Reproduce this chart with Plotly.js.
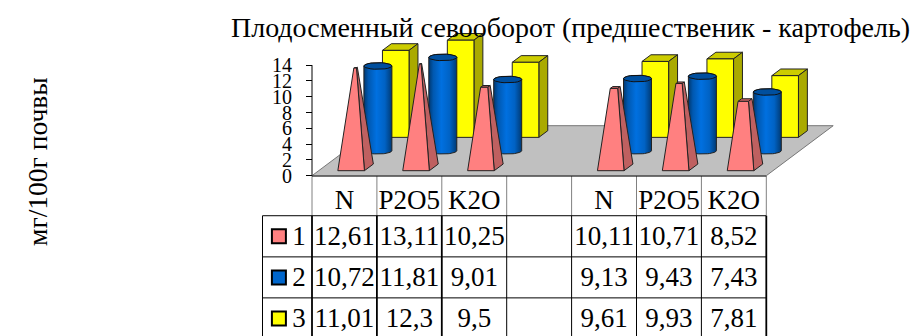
<!DOCTYPE html>
<html>
<head>
<meta charset="utf-8">
<script src="https://cdn.plot.ly/plotly-3.0.1.min.js"></script>
<style>html,body{margin:0;padding:0;background:#fff;overflow:hidden}</style>
</head>
<body>
<div id="chart" style="width:913px;height:336px"></div>
<script>
// Soil nutrient content for two groups of three nutrients, three series each.
const categories = ['N', 'P2O5', 'K2O', '', 'N', 'P2O5', 'K2O'];
const seriesNames = ['1', '2', '3'];
const series1 = [12.61, 13.11, 10.25, null, 10.11, 10.71, 8.52];
const series2 = [10.72, 11.81, 9.01, null, 9.13, 9.43, 7.43];
const series3 = [11.01, 12.3, 9.5, null, 9.61, 9.93, 7.81];
const yTicks = [0, 2, 4, 6, 8, 10, 12, 14];
const titleText = 'Плодосменный севооборот (предшественик - картофель)';
const yTitleText = 'мг/100г почвы';

const W = 913, H = 336;
const SERIF = '"Liberation Serif","Times New Roman",serif';
const INK = '#000000';
const EDGE = '#222222';

// Page geometry of the chart frame.
const x0Px = 312, colPx = 64.9, y0Px = 175.7, unitPx = 7.9, rowPx = 41;
// Oblique projection: one series row of depth moves marks right and up.
const rowDX = 22.3 / colPx, rowDY = 16.67 / unitPx;
const halfW = 13.3 / colPx, halfD = 0.2, axisMax = 14;
const proj = (col, depth, value) => [col + depth * rowDX, value + depth * rowDY];

const traces = [];
function poly(pts, fill, line, extra) {
  const closed = pts.concat([pts[0]]);
  traces.push(Object.assign({
    type: 'scatter', mode: 'lines', x: closed.map(p => p[0]), y: closed.map(p => p[1]),
    fill: 'toself', fillcolor: fill, line: {color: line || EDGE, width: 1},
    hoverinfo: 'skip', showlegend: false, xaxis: 'x', yaxis: 'y'
  }, extra || {}));
}

// Floor of the 3D plot box.
poly([proj(0, 0, 0), proj(categories.length, 0, 0), proj(categories.length, 3, 0), proj(0, 3, 0)], '#c0c0c0', '#777777');

// Square column, tapered towards the axis maximum when taper is set.
function prism(col, depth, v, colors, taper) {
  const s = taper ? 1 - v / axisMax : 1;
  const b = (dx, dz) => proj(col + dx * halfW, depth + dz * halfD, 0);
  const t = (dx, dz) => proj(col + dx * halfW * s, depth + dz * halfD * s, v);
  poly([t(-1, -1), t(1, -1), t(1, 1), t(-1, 1)], colors.top);
  poly([b(1, -1), b(1, 1), t(1, 1), t(1, -1)], colors.side);
  poly([b(-1, -1), b(1, -1), t(1, -1), t(-1, -1)], colors.front);
}

// Cylinder with shaded body and a darker cap.
function cylinder(col, depth, v) {
  const rx = 14 / colPx, ry = 3.3 / unitPx;
  const [cx, by] = proj(col, depth, 0);
  const ty = by + v;
  const arc = (cy, from, to) => {
    const out = [];
    for (let i = 0; i <= 24; i++) {
      const a = from + (to - from) * i / 24;
      out.push([cx + rx * Math.cos(a), cy + ry * Math.sin(a)]);
    }
    return out;
  };
  poly(arc(ty, Math.PI, 0).concat(arc(by, 0, -Math.PI)), '#0066cc', EDGE, {
    fillgradient: {
      type: 'horizontal', start: cx - rx, stop: cx + rx,
      colorscale: [[0, '#00386f'], [0.16, '#0058b0'], [0.45, '#0070e0'], [0.75, '#0062c4'], [1, '#003a74']]
    }
  });
  poly(arc(ty, 0, Math.PI * 2), '#004f9e', '#111111');
}

const cols = categories.map((_, i) => i + 0.5);
const pink = {front: '#ff8080', side: '#bf6060', top: '#cc6666'};
const yellow = {front: '#ffff00', side: '#aaaa00', top: '#cccc00'};

// Back row first so nearer marks overlap it.
cols.forEach((c, i) => { if (series3[i] !== null) prism(c, 2.5, series3[i], yellow, false); });
cols.forEach((c, i) => { if (series2[i] !== null) cylinder(c, 1.5, series2[i]); });
cols.forEach((c, i) => { if (series1[i] !== null) prism(c, 0.5, series1[i], pink, true); });

// Value axis line.
traces.push({type: 'scatter', mode: 'lines', x: [0, 0], y: [yTicks[0], yTicks[yTicks.length - 1]],
  line: {color: INK, width: 1}, hoverinfo: 'skip', showlegend: false, xaxis: 'x', yaxis: 'y'});

// Data table below the chart.
const rowEdges = [0, 0.976, 1.98, 2.98, 3.98];
const allSeries = [series1, series2, series3];
const fmt = v => v === null ? '' : String(v).replace('.', ',');
const textFont = {family: SERIF, size: 27, color: INK};
function tableText(xs, ys, texts) {
  traces.push({type: 'scatter', mode: 'text', x: xs, y: ys, text: texts, textposition: 'middle center',
    textfont: textFont, cliponaxis: false, hoverinfo: 'skip', showlegend: false, xaxis: 'x', yaxis: 'y2'});
}
const rowMid = r => (rowEdges[r + 1] + rowEdges[r + 2]) / 2;
tableText(cols, cols.map(() => 0.5 + 6 / rowPx), categories);
allSeries.forEach((values, r) => {
  const rowY = rowMid(r) + 2 / rowPx;
  tableText(cols, cols.map(() => rowY), values.map(fmt));
  tableText([-0.2], [rowY], [seriesNames[r]]);
});
// Series keys in the table's first column.
traces.push({type: 'scatter', mode: 'markers', x: [-0.51, -0.51, -0.51],
  y: allSeries.map((_, r) => rowMid(r)),
  marker: {symbol: 'square', size: 14, color: [pink.front, '#0066cc', yellow.front], line: {color: INK, width: 2}},
  cliponaxis: false, hoverinfo: 'skip', showlegend: false, xaxis: 'x', yaxis: 'y2'});

// Table rules.
const shapes = [];
const rule = (x1, r1, x2, r2, color, width) => shapes.push({type: 'line', xref: 'x', yref: 'y2',
  x0: x1, y0: r1, x1: x2, y1: r2, line: {color, width}});
const keyLeft = -49.5 / colPx, last = categories.length;
for (let c = 0; c <= last; c++) {
  rule(c, 0, c, rowEdges[1], '#808080', 1);
  rule(c, rowEdges[1], c, rowEdges[4], INK, c < 3 || c === last ? 1.8 : 1);
}
rule(keyLeft, rowEdges[1], keyLeft, rowEdges[4], INK, 1);
rule(0, 0, last, 0, INK, 1.5);
[1, 2, 3].forEach(r => rule(keyLeft, rowEdges[r], last, rowEdges[r], INK, 1));

const layout = {
  width: W, height: H, margin: {l: 0, r: 0, t: 0, b: 0},
  paper_bgcolor: '#ffffff', plot_bgcolor: 'rgba(0,0,0,0)', showlegend: false,
  title: {text: titleText, font: {family: SERIF, size: 28, color: INK},
    x: 570.5 / W, xanchor: 'center', xref: 'paper', y: 1 - 27 / H, yanchor: 'middle', yref: 'paper'},
  xaxis: {domain: [0, 1], range: [-x0Px / colPx, (W - x0Px) / colPx], visible: false, fixedrange: true},
  yaxis: {domain: [0, 1], range: [(y0Px - H) / unitPx, y0Px / unitPx], anchor: 'free', position: x0Px / W,
    tickmode: 'array', tickvals: yTicks, ticktext: yTicks.map(String), ticks: 'outside', ticklen: 6, tickwidth: 1,
    ticklabelstandoff: 10, tickcolor: INK, showgrid: false, zeroline: false, showline: false,
    tickfont: {family: SERIF, size: 20, color: INK}, fixedrange: true},
  yaxis2: {domain: [0, 1 - y0Px / H], range: [(H - y0Px) / rowPx, 0], visible: false, fixedrange: true},
  shapes,
  annotations: [{text: yTitleText, xref: 'paper', yref: 'paper', x: 37 / W, y: 1 - 162 / H,
    xanchor: 'center', yanchor: 'middle', textangle: -90, showarrow: false,
    font: {family: SERIF, size: 27.5, color: INK}}]
};

Plotly.newPlot('chart', traces, layout, {displayModeBar: false, staticPlot: true});
</script>
</body>
</html>
